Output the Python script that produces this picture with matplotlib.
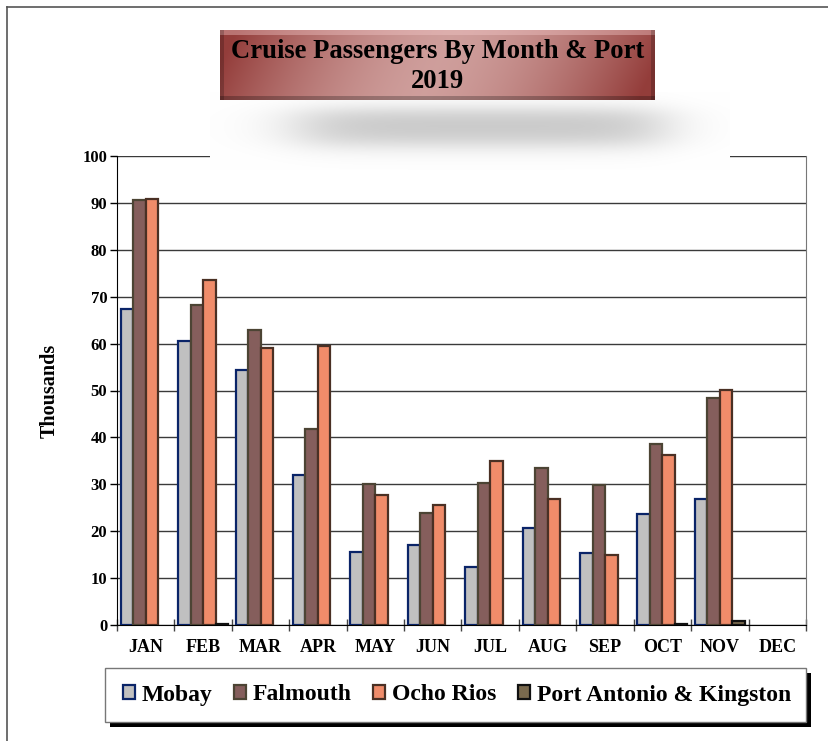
import numpy as np
import matplotlib
matplotlib.use('Agg')
import matplotlib.pyplot as plt
from matplotlib.patches import Rectangle, Patch

months = ["JAN", "FEB", "MAR", "APR", "MAY", "JUN", "JUL", "AUG", "SEP", "OCT", "NOV", "DEC"]
mobay = [67.4, 60.6, 54.4, 32.0, 15.6, 17.1, 12.4, 20.7, 15.4, 23.7, 26.9, 0]
falmouth = [90.6, 68.2, 62.9, 41.8, 30.1, 23.9, 30.3, 33.5, 29.9, 38.6, 48.4, 0]
ocho_rios = [90.8, 73.6, 59.1, 59.5, 27.7, 25.6, 35.0, 26.9, 14.9, 36.2, 50.1, 0]
port_antonio = [0, 0.3, 0, 0, 0, 0, 0, 0, 0, 0.2, 0.8, 0]
series_names = ["Mobay", "Falmouth", "Ocho Rios", "Port Antonio & Kingston"]

faces = ["#c0c0c0", "#855e5c", "#f08c6a", "#7a6a4e"]
edges = ["#0a2468", "#4c4434", "#4a3024", "#111111"]

W, H = 829, 741
fig = plt.figure(figsize=(W / 100, H / 100), dpi=100)
fig.patch.set_facecolor("white")
serif = "Liberation Serif"

def fx(px):
    return px / W

def fy(py):
    return 1 - py / H

# outer frame (left + top visible)
fig.add_artist(plt.Line2D([fx(7), fx(7)], [fy(7), 0], transform=fig.transFigure, color="#555555", lw=1.2))
fig.add_artist(plt.Line2D([fx(7), 1], [fy(7), fy(7)], transform=fig.transFigure, color="#555555", lw=1.2))

# main axes
ax = fig.add_axes([fx(117), fy(625), fx(806) - fx(117), fy(156) - fy(625)])
x = np.arange(len(months))
w = 0.218
data = [mobay, falmouth, ocho_rios, port_antonio]
for k, vals in enumerate(data):
    v = np.array(vals, dtype=float)
    v[v == 0] = np.nan  # empty months draw nothing
    ax.bar(x + (k - 1.5) * w, v, width=w, color=faces[k], edgecolor=edges[k],
           linewidth=1.6, zorder=3, label=series_names[k])

ax.set_xlim(-0.5, 11.5)
ax.set_ylim(0, 100)
ax.set_yticks(np.arange(0, 101, 10))
ax.yaxis.grid(True, color="#3a3a3a", lw=1.0, zorder=1)
ax.set_axisbelow(True)
ax.set_xticks(np.arange(-0.5, 12, 1))
ax.set_xticklabels([])
ax.set_xticks(x, minor=True)
ax.set_xticklabels(months, minor=True, fontfamily=serif, fontweight="bold", fontsize=13)
ax.tick_params(axis="x", which="major", direction="inout", length=9, width=1, color="#444444")
ax.tick_params(axis="x", which="minor", length=0, pad=10)
ax.tick_params(axis="y", direction="out", length=5, width=1, pad=2)
for lab in ax.get_yticklabels():
    lab.set_fontfamily(serif)
    lab.set_fontweight("bold")
    lab.set_fontsize(12)
ax.spines["top"].set_visible(False)
ax.spines["right"].set_color("#777777")
ax.spines["left"].set_color("black")
ax.spines["bottom"].set_color("black")
ax.set_ylabel("Thousands", fontfamily=serif, fontweight="bold", fontsize=14.5, labelpad=16)
ax.patch.set_alpha(0)

# title shadow (soft gray, opaque, hides top gridline)
sax = fig.add_axes([fx(210), fy(170), fx(730) - fx(210), fy(92) - fy(170)], zorder=5)
sx = np.linspace(0, 1, 400)[None, :]
sy = np.linspace(0, 1, 80)[:, None]
soft = (1 / (1 + np.exp(-(sx - 0.17) / 0.045))) * (1 / (1 + np.exp((sx - 0.87) / 0.04)))
soft = soft * (1 / (1 + np.exp(-(sy - 0.22) / 0.07))) * (1 / (1 + np.exp((sy - 0.68) / 0.08)))
shade = 1 - 0.22 * soft
img = np.dstack([shade, shade, shade])
sax.imshow(img, aspect="auto", extent=[0, 1, 0, 1], origin="upper")
sax.axis("off")

# title box with gradient
tax = fig.add_axes([fx(220), fy(100), fx(655) - fx(220), fy(30) - fy(100)], zorder=6)
gx = np.linspace(-1, 1, 435)[None, :]
gy = np.linspace(0, 1, 70)[:, None]
t = np.clip(1 - np.abs(gx + 0.15 * (gy - 0.5)) ** 1.6, 0, 1)
dark = np.array([0.58, 0.24, 0.23])
light = np.array([0.81, 0.62, 0.61])
box = dark[None, None, :] * (1 - t[..., None]) + light[None, None, :] * t[..., None]
box = np.broadcast_to(box, (70, 435, 3)).copy()
box[:5] = box[:5] * 0.6 + 0.4 * np.array([0.95, 0.78, 0.78])
box[-4:] = box[-4:] * 0.75
box[:, :4] = box[:, :4] * 0.8
box[:, -4:] = box[:, -4:] * 0.8
tax.imshow(box, aspect="auto", extent=[0, 1, 0, 1])
tax.axis("off")
tax.text(0.5, 0.69, "Cruise Passengers By Month & Port", transform=tax.transAxes, ha="center",
         va="center", fontfamily=serif, fontweight="bold", fontsize=19.2, color="black")
tax.text(0.5, 0.26, "2019", transform=tax.transAxes, ha="center", va="center",
         fontfamily=serif, fontweight="bold", fontsize=19.2, color="black")

# legend box with shadow
fig.add_artist(Rectangle((fx(110), fy(727)), fx(811) - fx(110), fy(673) - fy(727),
                         transform=fig.transFigure, facecolor="black", edgecolor="none", zorder=1))
fig.add_artist(Rectangle((fx(105), fy(722)), fx(806) - fx(105), fy(668) - fy(722),
                         transform=fig.transFigure, facecolor="white", edgecolor="#777777", lw=1, zorder=2))
handles = [Patch(facecolor=faces[k], edgecolor=edges[k], linewidth=1.6) for k in range(4)]
leg = fig.legend(handles, series_names, loc="center", bbox_to_anchor=(fx(457), fy(695)),
                 ncol=4, frameon=False, handlelength=0.5, handleheight=0.5, handletextpad=0.3,
                 columnspacing=0.9, prop={"family": serif, "weight": "bold", "size": 17})
leg.set_zorder(3)

fig.savefig("out.png", dpi=100)
